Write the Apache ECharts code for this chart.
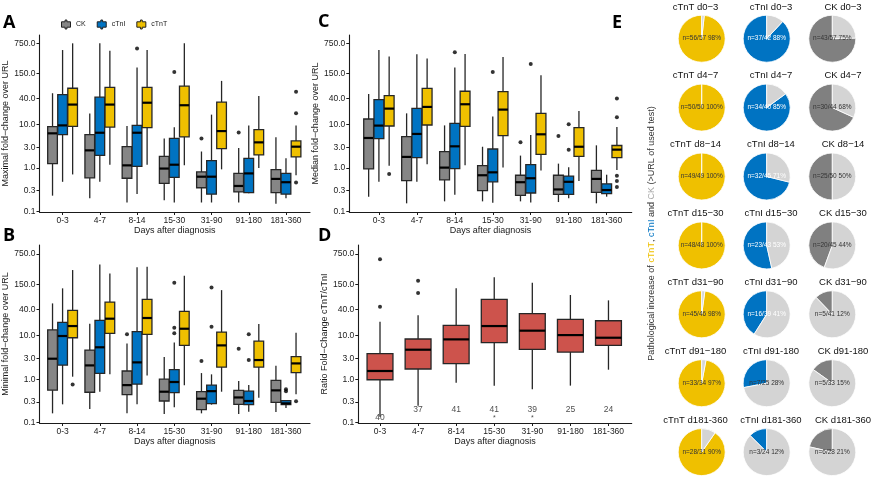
<!DOCTYPE html>
<html>
<head>
<meta charset="utf-8">
<script src="https://cdn.jsdelivr.net/npm/echarts@6/dist/echarts.min.js"></script>
<style>html,body{margin:0;padding:0;background:#fff}#chart{width:871px;height:479px}</style>
</head>
<body>
<div id="chart"></div>
<script>
// ---------- categories & ticks ----------
const groups = ['0-3', '4-7', '8-14', '15-30', '31-90', '91-180', '181-360'];
const yTickValues = [0.1, 0.3, 1.0, 3.0, 10.0, 40.0, 150.0, 750.0];
const testNames = ['CK', 'cTnI', 'cTnT'];

// ---------- Panel A: maximal fold-change [lowWhisker, Q1, median, Q3, highWhisker] ----------
const maxCK   = [[0.23,1.26,6.3,9.0,53],[0.20,0.59,2.55,5.9,18],[0.16,0.58,1.15,3.1,9.3],[0.18,0.44,0.97,1.86,4.8],[0.16,0.35,0.63,0.81,2.4],[0.16,0.28,0.385,0.75,2.9],[0.15,0.27,0.56,0.92,5.1]];
const maxCTnI = [[0.48,5.9,9.6,49,525],[0.48,1.96,6.5,43,750],[0.25,1.09,6.5,9.6,207],[0.16,0.61,1.19,4.8,8.7],[0.16,0.25,0.63,1.48,17],[0.26,0.27,0.75,1.67,9.6],[0.20,0.25,0.47,0.75,1.67]];
const maxCTnT = [[0.71,9.1,29,69,750],[1.19,8.8,29,72,508],[1.19,8.5,32,72,525],[1.16,5.2,28,77,750],[0.93,2.8,7.1,33,102],[1.0,2.0,3.9,7.65,46],[0.68,1.8,3.1,4.2,9.5]];
const maxOutCK   = [[4,4.8],[5,6.6]];
const maxOutCTnI = [[2,568],[3,164]];
const maxOutCTnT = [[6,57.5],[6,18.2],[6,0.46]];

// ---------- Panel B: minimal fold-change ----------
const minCK   = [[0.164,0.56,2.95,13.5,55],[0.206,0.50,2.07,4.67,18.8],[0.164,0.44,0.73,1.54,6.6],[0.158,0.315,0.515,1.0,3.22],[0.164,0.199,0.356,0.515,1.38],[0.158,0.264,0.38,0.553,0.905],[0.176,0.293,0.553,0.94,2.04]];
const minCTnI = [[0.264,2.11,9.8,20.2,122],[0.515,1.36,5.4,22.4,433],[0.264,0.77,2.43,12.3,370],[0.225,0.49,0.86,1.65,7.0],[0.26,0.273,0.53,0.73,1.29],[0.179,0.26,0.315,0.53,0.73],[0.217,0.26,0.278,0.32,0.32]];
const minCTnT = [[1.14,8.95,16.6,38,321],[1.29,11.3,24.5,59,269],[1.22,10.7,25.4,68,380],[0.72,5.97,14.4,36,238],[0.515,1.9,5.97,12.1,111],[0.375,1.9,2.75,7.5,18.5],[0.45,1.41,2.3,3.28,11.7]];
const minOutCK   = [[2,10.7],[4,2.61],[5,5.0]];
const minOutCTnI = [[3,164],[3,15.2],[3,11.3],[4,128],[4,16],[5,10.7],[5,2.75],[6,0.59],[6,0.525]];
const minOutCTnT = [[0,0.75],[6,0.31]];

// ---------- Panel C: median fold-change ----------
const medCK   = [[0.218,0.95,4.92,13.5,50.8],[0.153,0.51,1.8,5.3,18.2],[0.17,0.53,1.02,2.38,9.6],[0.17,0.30,0.68,1.13,3.09],[0.17,0.234,0.47,0.68,1.93],[0.164,0.247,0.32,0.68,1.26],[0.153,0.274,0.56,0.88,3.33]];
const medCTnI = [[0.48,4.75,9.5,37.8,525],[0.48,1.73,6.1,23.8,419],[0.243,0.966,3.16,10.7,207],[0.158,0.48,0.794,2.74,15.3],[0.16,0.265,0.58,1.19,5.8],[0.2,0.247,0.48,0.65,1.04],[0.218,0.256,0.31,0.43,0.70]];
const medCTnT = [[1.13,9.3,23.4,46.5,371],[1.22,9.8,25.6,68.7,333],[1.16,9.1,29.5,58.8,427],[1.02,5.57,22.2,57.5,365],[0.87,2.07,5.98,18.2,137],[0.50,1.86,3.09,8.5,20.7],[0.9,1.73,2.65,3.3,8.8]];
const medOutCK   = [[4,3.9],[5,5.5]];
const medOutCTnI = [[2,468],[3,164],[4,251],[5,10.2],[5,2.65]];
const medOutCTnT = [[0,0.73],[6,39.8],[6,14.8],[6,0.665],[6,0.50],[6,0.365]];

// ---------- Panel D: ratio fold-change cTnT/cTnI ----------
const ratioStats = [[0.137,0.97,1.54,3.85,20.9],[0.246,1.71,4.75,8.36,29.2],[0.83,2.27,8.2,17.2,122],[0.71,6.9,16.6,68,218],[0.59,4.83,13,31.9,164],[0.71,4.2,10.3,23.7,85.7],[1.65,5.97,8.95,22,64.6]];
const ratioOut = [[0,565],[0,46],[1,183],[1,95]];
const ratioN = [40, 37, 41, 41, 39, 25, 24];
const ratioSig = ['', '', '', '*', '*', '', ''];

// ---------- Panel E: pies ----------
const pieTitlesCTnT = ['cTnT d0−3','cTnT d4−7','cTnT d8−14','cTnT d15−30','cTnT d31−90','cTnT d91−180','cTnT d181-360'];
const pieTitlesCTnI = ['cTnI d0−3','cTnI d4−7','cTnI d8−14','cTnI d15−30','cTnI d31−90','cTnI d91-180','cTnI d181-360'];
const pieTitlesCK   = ['CK d0−3','CK d4−7','CK d8−14','CK d15−30','CK d31−90','CK d91-180','CK d181-360'];
const posCTnT = [56, 50, 49, 48, 45, 33, 28];
const totCTnT = [57, 50, 49, 48, 46, 34, 31];
const pctCTnT = [98, 100, 100, 100, 98, 97, 90];
const posCTnI = [37, 34, 32, 23, 16, 7, 3];
const totCTnI = [42, 40, 45, 43, 39, 25, 24];
const pctCTnI = [88, 85, 71, 53, 41, 28, 12];
const posCK = [43, 30, 25, 20, 5, 5, 6];
const totCK = [57, 44, 50, 45, 41, 33, 28];
const pctCK = [75, 68, 50, 44, 12, 15, 21];

// ---------- styling ----------
const FONT = '"Liberation Sans", Arial, Helvetica, sans-serif';
const COL = { CK: '#868686', cTnI: '#0073C2', cTnT: '#EFC000', ratio: '#CD534C', light: '#d4d4d4', ckPie: '#808080' };
const TXT = '#1a1a1a';
const lg = Math.log10;

const grids = [
  { left: 39.5, top: 35, width: 270.5, height: 177 },   // A
  { left: 39.5, top: 245, width: 270.5, height: 178 },  // B
  { left: 349.3, top: 35, width: 282.4, height: 177 },  // C
  { left: 358.3, top: 245, width: 273.4, height: 178 }  // D
];
const xRange = [[-0.62, 6.645], [-0.62, 6.645], [-0.78, 6.66], [-0.57, 6.61]];
const yRange = [[-1.015, 3.067], [-1.007, 3.082], [-1.015, 3.067], [-1.007, 3.082]];
const yNames = ['Maximal fold−change over URL', 'Minimal fold−change over URL', 'Median fold−change over URL', 'Ratio Fold−Change cTnT/cTnI'];
const yNameGap = [28, 28, 21, 28];

function fmtTick(v) {
  const t = Math.pow(10, v);
  let best = yTickValues[0];
  yTickValues.forEach(function (k) { if (Math.abs(k - t) < Math.abs(best - t)) best = k; });
  return best.toFixed(1);
}
const xTickPos = groups.map(function (g, i) { return i; });
const yTickPos = yTickValues.map(lg);

const xAxes = grids.map(function (g, i) {
  return {
    gridIndex: i, type: 'value', min: xRange[i][0], max: xRange[i][1],
    axisLine: { show: true, onZero: false, lineStyle: { color: TXT, width: 1.1 } },
    axisTick: { show: true, length: 3, customValues: xTickPos, lineStyle: { color: TXT } },
    axisLabel: { customValues: xTickPos, formatter: function (v) { return groups[Math.round(v)]; }, fontSize: 8.5, color: TXT, margin: 4, fontFamily: FONT },
    splitLine: { show: false },
    name: 'Days after diagnosis', nameLocation: 'middle', nameGap: 13,
    nameTextStyle: { fontSize: 9, color: TXT, fontFamily: FONT }
  };
});
const yAxes = grids.map(function (g, i) {
  return {
    gridIndex: i, type: 'value', min: yRange[i][0], max: yRange[i][1],
    axisLine: { show: true, onZero: false, lineStyle: { color: TXT, width: 1.1 } },
    axisTick: { show: true, length: 3, customValues: yTickPos, lineStyle: { color: TXT } },
    axisLabel: { customValues: yTickPos, formatter: fmtTick, fontSize: 8.5, color: TXT, margin: 4, fontFamily: FONT },
    splitLine: { show: false },
    name: yNames[i], nameLocation: 'middle', nameRotate: 90, nameGap: yNameGap[i],
    nameTextStyle: { fontSize: 9, color: TXT, fontFamily: FONT }
  };
});

function boxSeries(name, gi, stats, offset, width, color) {
  return {
    type: 'custom', name: name, xAxisIndex: gi, yAxisIndex: gi,
    itemStyle: { color: color },
    data: stats.map(function (s, i) { return [i].concat(s.map(lg)); }),
    encode: { x: 0, y: [1, 2, 3, 4, 5] },
    renderItem: function (params, api) {
      const xv = api.value(0) + offset;
      const lo = api.coord([xv, api.value(1)]);
      const q1 = api.coord([xv, api.value(2)]);
      const md = api.coord([xv, api.value(3)]);
      const q3 = api.coord([xv, api.value(4)]);
      const hi = api.coord([xv, api.value(5)]);
      const w = api.size([width, 0])[0];
      const cx = lo[0];
      const ln = { stroke: '#262626', lineWidth: 1.3 };
      return {
        type: 'group', children: [
          { type: 'line', shape: { x1: cx, y1: q3[1], x2: cx, y2: hi[1] }, style: ln },
          { type: 'line', shape: { x1: cx, y1: q1[1], x2: cx, y2: lo[1] }, style: ln },
          { type: 'rect', shape: { x: cx - w / 2, y: q3[1], width: w, height: q1[1] - q3[1] }, style: { fill: color, stroke: '#262626', lineWidth: 1.3 } },
          { type: 'line', shape: { x1: cx - w / 2, y1: md[1], x2: cx + w / 2, y2: md[1] }, style: { stroke: '#000', lineWidth: 2.2 } }
        ]
      };
    }
  };
}
function outSeries(name, gi, pts, offset) {
  return {
    type: 'scatter', name: name, xAxisIndex: gi, yAxisIndex: gi, symbolSize: 4,
    itemStyle: { color: '#000' }, silent: true,
    data: pts.map(function (p) { return [p[0] + offset, lg(p[1])]; })
  };
}

const series = [];
const dodge = 0.27, bw = 0.26;
const panels = [
  { gi: 0, stats: [maxCK, maxCTnI, maxCTnT], outs: [maxOutCK, maxOutCTnI, maxOutCTnT] },
  { gi: 1, stats: [minCK, minCTnI, minCTnT], outs: [minOutCK, minOutCTnI, minOutCTnT] },
  { gi: 2, stats: [medCK, medCTnI, medCTnT], outs: [medOutCK, medOutCTnI, medOutCTnT] }
];
panels.forEach(function (p) {
  testNames.forEach(function (t, k) {
    const off = (k - 1) * dodge;
    series.push(boxSeries(t, p.gi, p.stats[k], off, bw, COL[t]));
    series.push(outSeries(t, p.gi, p.outs[k], off));
  });
});
series.push(boxSeries('Ratio', 3, ratioStats, 0, 0.68, COL.ratio));
series.push(outSeries('Ratio', 3, ratioOut, 0));
// counts under the ratio boxes
series.push({
  type: 'scatter', xAxisIndex: 3, yAxisIndex: 3, symbolSize: 0, silent: true,
  data: ratioN.map(function (n, i) { return [i, i === 0 ? -0.885 : -0.708, n]; }),
  label: { show: true, position: 'inside', formatter: function (p) { return String(p.value[2]); }, fontSize: 8.5, color: TXT, fontFamily: FONT }
});
series.push({
  type: 'scatter', xAxisIndex: 3, yAxisIndex: 3, symbolSize: 0, silent: true,
  data: ratioSig.map(function (s, i) { return [i, -0.9, s]; }).filter(function (d) { return d[2] !== ''; }),
  label: { show: true, position: 'inside', formatter: function (p) { return p.value[2]; }, fontSize: 7, color: TXT, fontFamily: FONT }
});

// ---------- pies ----------
const pieCols = [
  { titles: pieTitlesCTnT, pos: posCTnT, tot: totCTnT, pct: pctCTnT, color: COL.cTnT, cx: 701.7, tx: 695.5, txt: function () { return '#333'; } },
  { titles: pieTitlesCTnI, pos: posCTnI, tot: totCTnI, pct: pctCTnI, color: COL.cTnI, cx: 766.7, tx: 771, txt: function (f) { return f >= 0.4 ? '#fff' : '#333'; } },
  { titles: pieTitlesCK, pos: posCK, tot: totCK, pct: pctCK, color: COL.ckPie, cx: 832.3, tx: 843, txt: function () { return '#333'; } }
];
const graphics = [];
const rowY = function (r) { return 38.7 + r * 68.9; };
pieCols.forEach(function (c) {
  c.pos.forEach(function (n, r) {
    const N = c.tot[r];
    const cy = rowY(r);
    series.push({
      type: 'pie', center: [c.cx, cy], radius: 23.5, startAngle: 90, clockwise: false,
      silent: true, animation: false, avoidLabelOverlap: false,
      itemStyle: { borderColor: '#fff', borderWidth: 0.8 },
      label: { show: false }, labelLine: { show: false },
      data: [
        { value: n, name: c.titles[r], itemStyle: { color: c.color },
          label: { show: true, position: 'center', formatter: 'n=' + n + '/' + N + ' ' + c.pct[r] + '%',
                   fontSize: 6.5, color: c.txt(n / N), fontFamily: FONT, padding: [17, 0, 0, 0] } },
        { value: N - n, name: c.titles[r] + ' neg', itemStyle: { color: COL.light }, label: { show: false } }
      ]
    });
    graphics.push({ type: 'text', x: c.tx, y: cy - 31.8, silent: true,
      style: { text: c.titles[r], fontSize: 9.5, fill: '#111', fontFamily: FONT, align: 'center', verticalAlign: 'middle' } });
  });
});

// panel letters
[['A', 3, 23], ['B', 3, 235.5], ['C', 318, 21.7], ['D', 318, 235.5], ['E', 612, 22.5]].forEach(function (l) {
  graphics.push({ type: 'text', x: l[1], y: l[2], silent: true,
    style: { text: l[0], fontSize: 18, fontWeight: 'bold', fill: '#000', fontFamily: '"Open Sans", ' + FONT, align: 'left', verticalAlign: 'middle' } });
});
// E axis label
graphics.push({ type: 'text', x: 651.7, y: 233.5, rotation: Math.PI / 2, silent: true,
  style: {
    text: '{a|Pathological increase of }{t|cTnT}{a|, }{i|cTnI}{a| and }{k|CK}{a| (>URL of used test)}',
    align: 'center', verticalAlign: 'middle',
    rich: {
      a: { fontSize: 9, fill: '#333', fontFamily: FONT },
      t: { fontSize: 9, fill: COL.cTnT, fontFamily: FONT },
      i: { fontSize: 9, fill: COL.cTnI, fontFamily: FONT },
      k: { fontSize: 9, fill: '#a8a8a8', fontFamily: FONT }
    }
  } });

const legendIcon = 'path://M4,0 L6,0 L6,2 L10,2 L10,8 L6,8 L6,10 L4,10 L4,8 L0,8 L0,2 L4,2 Z';
const option = {
  animation: false,
  backgroundColor: '#fff',
  textStyle: { fontFamily: FONT },
  grid: grids,
  xAxis: xAxes,
  yAxis: yAxes,
  legend: {
    left: 56, top: 14.5, itemWidth: 10, itemHeight: 9, itemGap: 11, selectedMode: false,
    textStyle: { fontSize: 7, color: TXT, fontFamily: FONT },
    data: testNames.map(function (t) {
      return { name: t, icon: legendIcon, itemStyle: { color: COL[t], borderColor: '#222', borderWidth: 1 } };
    })
  },
  graphic: graphics,
  series: series
};
const chart = echarts.init(document.getElementById('chart'), null, { renderer: 'canvas' });
chart.setOption(option);
</script>
</body>
</html>
